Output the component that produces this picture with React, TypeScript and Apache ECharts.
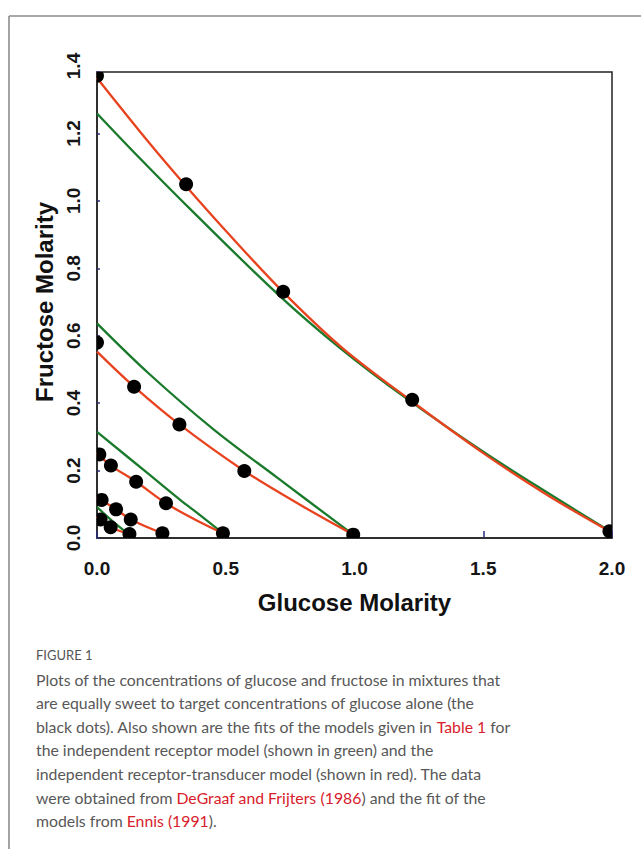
import React, { useEffect, useRef } from "react";
import * as echarts from "echarts";

// ---- axis ticks ----
const xTickValues = [0, 0.5, 1.0, 1.5, 2.0];
const yTickValues = [0, 0.2, 0.4, 0.6, 0.8, 1.0, 1.2, 1.4];
const yPlotTop = 1.383; // top edge of the plotted box

// ---- observed data (black dots), one group per target glucose level ----
const dots1X = [0, 0.346, 0.723, 1.224, 1.99];
const dots1Y = [1.372, 1.05, 0.731, 0.41, 0.02];
const dots2X = [0, 0.144, 0.32, 0.572, 0.995];
const dots2Y = [0.58, 0.449, 0.337, 0.199, 0.01];
const dots3X = [0.009, 0.054, 0.152, 0.268, 0.489];
const dots3Y = [0.248, 0.215, 0.167, 0.103, 0.014];
const dots4X = [0.018, 0.074, 0.131, 0.254];
const dots4Y = [0.113, 0.085, 0.055, 0.014];
const dots5X = [0.014, 0.053, 0.126];
const dots5Y = [0.055, 0.032, 0.012];

// ---- independent receptor-transducer model (red) ----
const red1X = [0, 0.2, 0.346, 0.5, 0.72, 0.95, 1.224, 1.5, 1.75, 1.99];
const red1Y = [1.365, 1.175, 1.044, 0.912, 0.732, 0.566, 0.405, 0.252, 0.127, 0.02];
const red2X = [0, 0.144, 0.32, 0.572, 0.79, 0.995];
const red2Y = [0.553, 0.449, 0.337, 0.199, 0.098, 0.01];
const red3X = [0, 0.054, 0.152, 0.268, 0.38, 0.489];
const red3Y = [0.252, 0.215, 0.167, 0.103, 0.055, 0.014];
const red4X = [0, 0.074, 0.131, 0.254];
const red4Y = [0.12, 0.085, 0.055, 0.014];
const red5X = [0, 0.053, 0.126];
const red5Y = [0.063, 0.032, 0.012];

// ---- independent receptor model (green) ----
const green1X = [0, 0.17, 0.37, 0.71, 0.95, 1.2, 1.5, 1.75, 1.99];
const green1Y = [1.26, 1.124, 0.97, 0.718, 0.56, 0.415, 0.256, 0.134, 0.021];
const green2X = [0, 0.2, 0.45, 0.7, 0.995];
const green2Y = [0.637, 0.489, 0.324, 0.179, 0.01];
const green3X = [0, 0.2, 0.323, 0.4, 0.489];
const green3Y = [0.315, 0.19, 0.113, 0.068, 0.014];
const green5X = [0, 0.06, 0.122];
const green5Y = [0.092, 0.05, 0.012];

// ---- caption ----
const captionTitle = "FIGURE 1";
const captionLines = [
  "Plots of the concentrations of glucose and fructose in mixtures that",
  "are equally sweet to target concentrations of glucose alone (the",
  "black dots). Also shown are the fits of the models given in {r|Table 1} for",
  "the independent receptor model (shown in green) and the",
  "independent receptor-transducer model (shown in red). The data",
  "were obtained from {r|DeGraaf and Frijters} {r|(1986}) and the fit of the",
  "models from {r|Ennis} {r|(1991}).",
];

const RED = "#e8431f";
const GREEN = "#1a7a2c";
const AX_FONT = '"Liberation Sans", Arial, Helvetica, sans-serif';
const CAP_FONT = 'Lato, "Open Sans", sans-serif';

const pairs = (xs: number[], ys: number[]) => xs.map((x, i) => [x, ys[i]]);

function lineSeries(xs: number[], ys: number[], color: string, z: number) {
  return {
    type: "line",
    xAxisIndex: 0,
    yAxisIndex: 0,
    data: pairs(xs, ys),
    showSymbol: false,
    smooth: 0.35,
    clip: true,
    z,
    lineStyle: { color, width: 2.3 },
    silent: true,
  };
}

function dotSeries(xs: number[], ys: number[]) {
  return {
    type: "custom",
    xAxisIndex: 0,
    yAxisIndex: 0,
    data: pairs(xs, ys),
    encode: { x: 0, y: 1 },
    clip: true,
    z: 10,
    silent: true,
    renderItem: (params: any, api: any) => {
      const p = api.coord([api.value(0), api.value(1)]);
      return {
        type: "circle",
        shape: { cx: p[0], cy: p[1], r: 7 },
        style: { fill: "#000" },
      };
    },
  };
}

export default function App() {
  const ref = useRef<HTMLDivElement>(null);
  useEffect(() => {
    if (!ref.current) return;
    const chart = echarts.init(ref.current, undefined, { renderer: "svg" });
    const capStyle = {
      fontSize: 15.8,
      fontFamily: CAP_FONT,
      fontWeight: 400,
      fill: "#585858",
    };
    const graphics: any[] = [
      { type: "line", shape: { x1: 9, y1: 16, x2: 641, y2: 16 }, style: { stroke: "#8c8c8c", lineWidth: 1.6 } },
      { type: "line", shape: { x1: 9, y1: 16, x2: 9, y2: 849 }, style: { stroke: "#8c8c8c", lineWidth: 1.6 } },
      {
        type: "text",
        x: 36,
        y: 655,
        style: {
          text: captionTitle,
          fontSize: 13,
          fontFamily: CAP_FONT,
          fontWeight: 400,
          fill: "#555",
          verticalAlign: "middle",
        },
      },
    ];
    captionLines.forEach((t, i) => {
      graphics.push({
        type: "text",
        x: 36,
        y: 679 + i * 23.6,
        style: {
          ...capStyle,
          text: t,
          verticalAlign: "middle",
          rich: {
            r: { ...capStyle, fill: "#d7202b" },
          },
        },
      });
    });

    const option: any = {
      animation: false,
      backgroundColor: "#fff",
      grid: [
        {
          left: 97,
          right: 29,
          top: 72,
          bottom: 311,
          show: true,
          borderColor: "#222",
          borderWidth: 1.5,
          backgroundColor: "transparent",
          outerBoundsMode: "none",
        },
        { left: 97, right: 29, top: 66, bottom: 311, show: false, outerBoundsMode: "none" },
      ],
      xAxis: [
        {
          type: "value",
          gridIndex: 0,
          min: xTickValues[0],
          max: xTickValues[xTickValues.length - 1],
          interval: xTickValues[1] - xTickValues[0],
          axisLine: { show: true, lineStyle: { color: "#222", width: 1.5 } },
          axisTick: { show: true, inside: true, length: 7, lineStyle: { color: "#2c2c80", width: 1.5 } },
          axisLabel: {
            margin: 21,
            fontSize: 19,
            fontWeight: "bold",
            color: "#151515",
            fontFamily: AX_FONT,
            formatter: (v: number) => v.toFixed(1),
          },
          splitLine: { show: false },
          name: "Glucose Molarity",
          nameLocation: "middle",
          nameGap: 52,
          nameTextStyle: { fontSize: 24, fontWeight: "bold", color: "#111", fontFamily: AX_FONT },
        },
        { type: "value", gridIndex: 1, min: 0, max: 2, show: false },
      ],
      yAxis: [
        {
          type: "value",
          gridIndex: 0,
          min: yTickValues[0],
          max: yPlotTop,
          interval: yTickValues[1] - yTickValues[0],
          axisLine: { show: true, lineStyle: { color: "#222", width: 1.5 } },
          axisTick: { show: true, inside: true, length: 3, lineStyle: { color: "#2c2c80", width: 1.5 } },
          axisLabel: { show: false },
          splitLine: { show: false },
        },
        {
          type: "value",
          gridIndex: 1,
          min: yTickValues[0],
          max: yTickValues[yTickValues.length - 1],
          interval: yTickValues[1] - yTickValues[0],
          axisLine: { show: false },
          axisTick: { show: false },
          axisLabel: {
            rotate: 90,
            margin: 14,
            fontSize: 19,
            fontWeight: "bold",
            color: "#151515",
            fontFamily: AX_FONT,
            formatter: (v: number) => v.toFixed(1),
          },
          splitLine: { show: false },
          name: "Fructose Molarity",
          nameLocation: "middle",
          nameGap: 40,
          nameTextStyle: { fontSize: 24, fontWeight: "bold", color: "#111", fontFamily: AX_FONT },
        },
      ],
      series: [
        lineSeries(green1X, green1Y, GREEN, 2),
        lineSeries(green2X, green2Y, GREEN, 2),
        lineSeries(green3X, green3Y, GREEN, 2),
        lineSeries(green5X, green5Y, GREEN, 2),
        lineSeries(red1X, red1Y, RED, 3),
        lineSeries(red2X, red2Y, RED, 3),
        lineSeries(red3X, red3Y, RED, 3),
        lineSeries(red4X, red4Y, RED, 3),
        lineSeries(red5X, red5Y, RED, 3),
        dotSeries(dots1X, dots1Y),
        dotSeries(dots2X, dots2Y),
        dotSeries(dots3X, dots3Y),
        dotSeries(dots4X, dots4Y),
        dotSeries(dots5X, dots5Y),
      ],
      graphic: graphics,
    };
    chart.setOption(option);
    return () => chart.dispose();
  }, []);
  return (
    <div
      ref={ref}
      style={{ position: "absolute", left: 0, top: 0, width: 641, height: 849 }}
    />
  );
}
